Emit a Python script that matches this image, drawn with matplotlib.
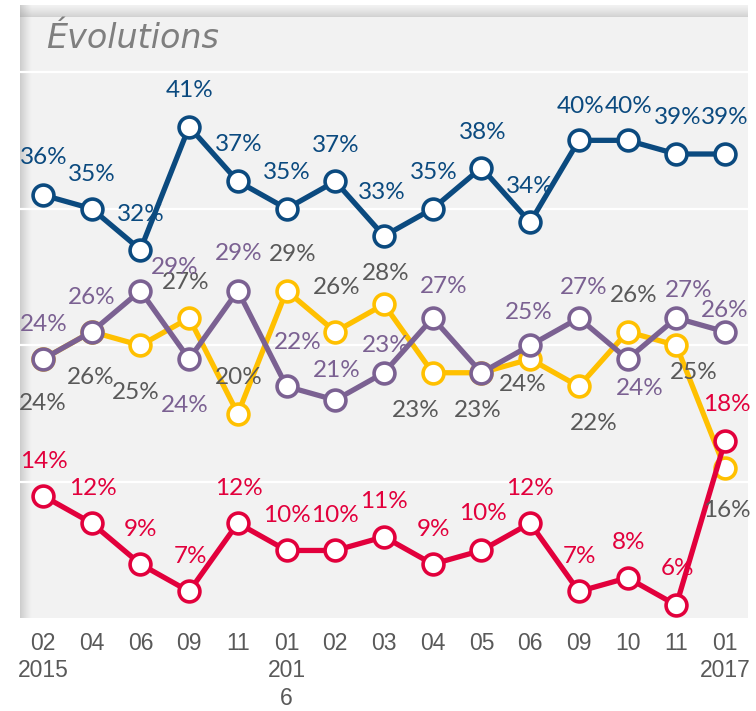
import matplotlib
matplotlib.use("Agg")
import matplotlib.pyplot as plt
import numpy as np

# ---------------- data ----------------
months = ["02\n2015", "04", "06", "09", "11", "01\n201\n6", "02", "03", "04",
          "05", "06", "09", "10", "11", "01\n2017"]
blue = [36, 35, 32, 41, 37, 35, 37, 33, 35, 38, 34, 40, 40, 39, 39]
red = [14, 12, 9, 7, 12, 10, 10, 11, 9, 10, 12, 7, 8, 6, 18]
purple = [24, 26, 29, 24, 29, 22, 21, 23, 27, 23, 25, 27, 24, 27, 26]
yellow = [24, 26, 25, 27, 20, 29, 26, 28, 23, 23, 24, 22, 26, 25, 16]
title = "Évolutions"

# label offsets in pixels (dx, dy); None = hidden
blue_off = [(1, 38), (0, 34), (0, 35), (0, 36), (1, 37), (0, 36), (0, 36), (-2, 44),
            (1, 36), (1, 35), (0, 36), (2, 34), (1, 34), (1, 37), (0, 37)]
red_off = [(1, 34), (1, 35), (0, 35), (1, 35), (1, 35), (0, 35), (0, 35), (0, 35),
           (1, 35), (1, 37), (0, 35), (1, 35), (1, 35), (1, 37), (2, 37)]
purple_off = [(1, 35), (0, 34), (34, 23), (-4, -46), (1, 37), (11, 44), (1, 30), (2, 27),
              (11, 32), None, (-1, 33), (5, 31), (12, -29), (12, 28), (0, 21)]
yellow_off = [(0, -44), (-1, -46), (-5, -47), (-3, 36), (1, 36), (6, 36), (1, 44), (2, 31),
              (-17, -38), (-4, -38), (-7, -25), (15, -37), (6, 36), (17, -27), (2, -42)]

C_BLUE = "#0b4a7f"
C_RED = "#e2003c"
C_PURPLE = "#7b6192"
C_YELLOW = "#ffc000"
C_GRAY = "#595959"
BG = "#f2f2f2"

W, H = 756, 711
fig = plt.figure(figsize=(W / 100, H / 100), dpi=100)
fig.patch.set_facecolor("white")

L, R, T, B = 20, 748, 5, 618
ax = fig.add_axes([L / W, 1 - B / H, (R - L) / W, (B - T) / H])
ax.set_facecolor(BG)
for s in ax.spines.values():
    s.set_visible(False)

x = np.arange(len(months))
ax.set_xlim(-0.472, 14.472)
ax.set_ylim(5.06, 49.9)

# shadows
grad_l = np.zeros((1, 64, 4))
grad_l[..., :3] = 0.5
grad_l[0, :, 3] = np.linspace(0.4, 0.0, 64) ** 1.2
ax.imshow(grad_l, extent=(0, 12 / (R - L), 0, 1), transform=ax.transAxes,
          aspect="auto", zorder=0.5, interpolation="bilinear")
grad_t = np.zeros((64, 1, 4))
grad_t[..., :3] = 0.5
grad_t[:, 0, 3] = np.linspace(0.0, 0.35, 64) ** 1.2
ax.imshow(grad_t, extent=(0, 1, 1 - 12 / (B - T), 1), transform=ax.transAxes,
          aspect="auto", zorder=0.5, interpolation="bilinear")

for g in [15, 25, 35, 45]:
    ax.axhline(g, color="white", lw=1.6, zorder=1)

ax.set_xticks(x)
ax.set_xticklabels(months, fontsize=16.5, color=C_GRAY, family="Liberation Sans",
                   linespacing=1.25)
ax.tick_params(axis="x", length=0, pad=10)
ax.set_yticks([])

series = [
    (yellow, C_YELLOW, C_GRAY, yellow_off, 2),
    (purple, C_PURPLE, C_PURPLE, purple_off, 3),
    (blue, C_BLUE, C_BLUE, blue_off, 4),
    (red, C_RED, C_RED, red_off, 5),
]
for vals, col, lcol, offs, z in series:
    ax.plot(x, vals, color=col, lw=3.8, marker="o", markersize=15,
            markerfacecolor="white", markeredgecolor=col, markeredgewidth=2.6,
            zorder=z, solid_joinstyle="round")
for vals, col, lcol, offs, z in series:
    for xi, v, o in zip(x, vals, offs):
        if o is None:
            continue
        ax.annotate(f"{v}%", (xi, v), xytext=o, textcoords="offset pixels",
                    ha="center", va="center", fontsize=17.5, color=lcol,
                    family="Lato", zorder=10, annotation_clip=False)

fig.text(46 / W, 1 - 48 / H, title, fontsize=24, style="italic", color="#7f7f7f",
         family="DejaVu Sans", va="baseline", ha="left")

fig.savefig("out.png", dpi=100, facecolor="white")
